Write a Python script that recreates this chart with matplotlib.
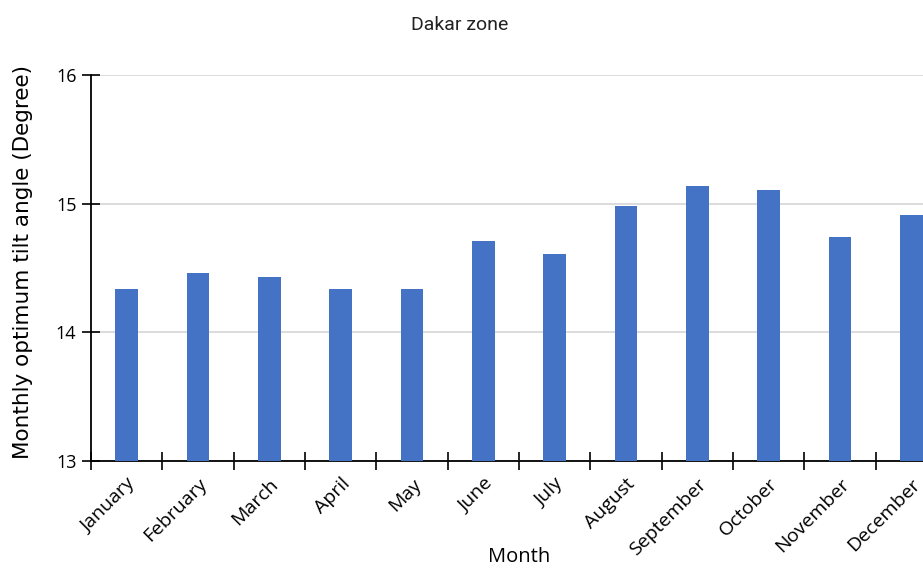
import matplotlib.pyplot as plt
from matplotlib.ticker import FixedLocator

months = ["January", "February", "March", "April", "May", "June", "July",
          "August", "September", "October", "November", "December"]
tilt = [14.34, 14.46, 14.43, 14.34, 14.34, 14.71, 14.61,
        14.98, 15.14, 15.11, 14.74, 14.91]
y_ticks = [13, 14, 15, 16]

BAR_COLOR = "#4472C4"


def create_figure():
    fig = plt.figure(figsize=(9.23, 5.69), dpi=100)
    # plot area runs past the right edge of the picture, as in the reference
    ax = fig.add_axes([91 / 923, 108 / 569, 856 / 923, 386 / 569])

    ax.spines['right'].set_color('none')
    ax.spines['top'].set_color('none')
    ax.spines['left'].set_linewidth(1.3)
    ax.spines['bottom'].set_linewidth(1.3)
    return fig, ax


def main():
    fig, ax = create_figure()
    x = range(len(months))
    ax.bar(x, tilt, width=0.32, color=BAR_COLOR, zorder=3)

    ax.set_xlim(-0.5, len(months) - 0.5)
    ax.set_ylim(13, 16)
    ax.set_yticks(y_ticks)
    ax.set_yticklabels([str(t) for t in y_ticks], family="Open Sans", fontsize=13)
    ax.yaxis.grid(True, color="#d9d9d9", linewidth=1.3, zorder=0)

    # category ticks sit on the boundaries, labels at the centres
    ax.xaxis.set_major_locator(FixedLocator([i - 0.5 for i in range(len(months) + 1)]))
    ax.xaxis.set_minor_locator(FixedLocator(list(x)))
    ax.set_xticklabels([])
    ax.set_xticklabels(months, minor=True, rotation=45, ha='right', va='top',
                       rotation_mode='anchor', fontsize=14, family="Open Sans")
    ax.tick_params(axis='x', which='major', direction='inout', length=13, width=1.2)
    ax.tick_params(axis='x', which='minor', length=0, pad=10)
    ax.tick_params(axis='y', direction='inout', length=13, width=1.2, pad=4)

    ax.set_xlabel("Month", fontsize=14.5, family="Open Sans", labelpad=-8)
    ax.set_ylabel("Monthly optimum tilt angle (Degree)", fontsize=15.5,
                  family="DejaVu Sans")
    ax.yaxis.set_label_coords(-58 / 856, 0.515)
    fig.text(460 / 923, 1 - 25 / 569, "Dakar zone", ha='center', va='center',
             family="Roboto", fontsize=14, color="#222222")

    fig.savefig("out.png", dpi=100)


if __name__ == "__main__":
    main()
